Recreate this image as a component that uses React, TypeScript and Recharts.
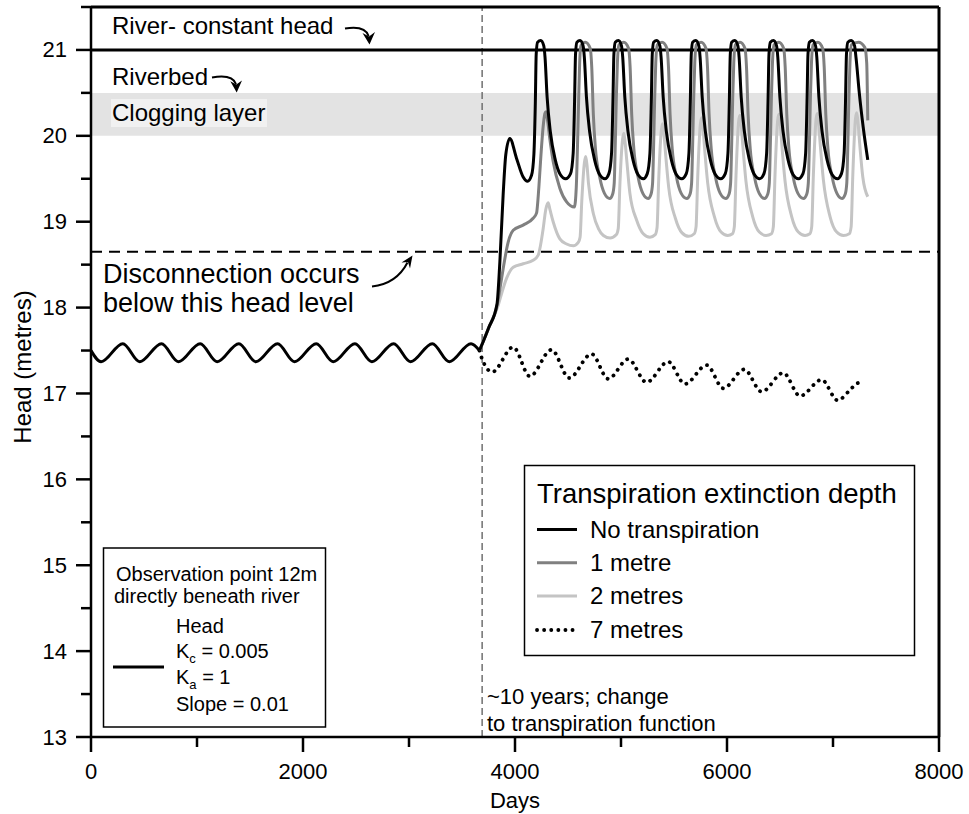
import React from 'react';
import { ComposedChart, Line, XAxis, YAxis, ReferenceLine, ReferenceArea } from 'recharts';

const FONT = '"Liberation Sans", Arial, Helvetica, sans-serif';

// Axis ticks
const xTicks = [0, 1000, 2000, 3000, 4000, 5000, 6000, 7000, 8000];
const xMajor = [0, 2000, 4000, 6000, 8000];
const yTicks = [13, 13.5, 14, 14.5, 15, 15.5, 16, 16.5, 17, 17.5, 18, 18.5, 19, 19.5, 20, 20.5, 21, 21.5];
const yMajor = [13, 14, 15, 16, 17, 18, 19, 20, 21];

// Reference levels
const riverHead = 21;
const riverbedTop = 20.5;
const riverbedBottom = 20;
const disconnectionHead = 18.65;
const changeDay = 3690;

// Head before transpiration change [day, head]
const headBefore = [
  [0, 17.5], [95, 17.37], [300, 17.58], [460, 17.37], [665, 17.58], [825, 17.37], [1030, 17.58],
  [1190, 17.37], [1395, 17.58], [1555, 17.37], [1760, 17.58], [1920, 17.37], [2125, 17.58],
  [2285, 17.37], [2490, 17.58], [2650, 17.37], [2855, 17.58], [3015, 17.37], [3220, 17.58],
  [3380, 17.37], [3585, 17.58], [3665, 17.5],
];

// No transpiration
const noTranspiration = [
  [3665, 17.5], [3750, 17.76], [3830, 18.04], [3857, 18.53], [3888, 19.31], [3913, 19.78], [3951, 19.97],
  [4014, 19.74], [4077, 19.52], [4118, 19.47], [4156, 19.54], [4178, 19.78], [4192, 20.4], [4200, 20.95],
  [4213, 21.09], [4243, 21.11], [4271, 21.05], [4283, 20.92], [4303, 20.45], [4333, 20.05], [4380, 19.72], [4427, 19.55], [4478, 19.5],
  [4524, 19.56], [4549, 19.8], [4562, 20.4], [4571, 20.95],
  [4584, 21.09], [4614, 21.11], [4642, 21.05], [4654, 20.92], [4674, 20.45], [4704, 20.05], [4751, 19.72], [4798, 19.55], [4849, 19.5],
  [4886, 19.56], [4911, 19.8], [4924, 20.4], [4933, 20.95],
  [4946, 21.09], [4976, 21.11], [5004, 21.05], [5016, 20.92], [5036, 20.45], [5066, 20.05], [5113, 19.72], [5160, 19.55], [5211, 19.5],
  [5248, 19.56], [5273, 19.8], [5286, 20.4], [5295, 20.95],
  [5308, 21.09], [5338, 21.11], [5366, 21.05], [5378, 20.92], [5398, 20.45], [5428, 20.05], [5475, 19.72], [5522, 19.55], [5573, 19.5],
  [5616, 19.56], [5641, 19.8], [5654, 20.4], [5663, 20.95],
  [5676, 21.09], [5706, 21.11], [5734, 21.05], [5746, 20.92], [5766, 20.45], [5796, 20.05], [5843, 19.72], [5890, 19.55], [5941, 19.5],
  [5984, 19.56], [6009, 19.8], [6022, 20.4], [6031, 20.95],
  [6044, 21.09], [6074, 21.11], [6102, 21.05], [6114, 20.92], [6134, 20.45], [6164, 20.05], [6211, 19.72], [6258, 19.55], [6309, 19.5],
  [6349, 19.56], [6374, 19.8], [6387, 20.4], [6396, 20.95],
  [6409, 21.09], [6439, 21.11], [6467, 21.05], [6479, 20.92], [6499, 20.45], [6529, 20.05], [6576, 19.72], [6623, 19.55], [6674, 19.5],
  [6717, 19.56], [6742, 19.8], [6755, 20.4], [6764, 20.95],
  [6777, 21.09], [6807, 21.11], [6835, 21.05], [6847, 20.92], [6867, 20.45], [6897, 20.05], [6944, 19.72], [6991, 19.55], [7042, 19.5],
  [7080, 19.56], [7105, 19.8], [7118, 20.4], [7127, 20.95],
  [7140, 21.09], [7172, 21.11], [7203, 21.05], [7218, 20.9], [7248, 20.5], [7285, 20.1], [7328, 19.72],
];

// 1 metre extinction depth
const oneMetre = [
  [3665, 17.5], [3750, 17.76], [3835, 18.05], [3862, 18.25], [3888, 18.45], [3935, 18.76], [3983, 18.9],
  [4077, 18.96], [4171, 19.04], [4203, 19.1], [4225, 19.4], [4245, 19.78], [4265, 20.1], [4282, 20.26],
  [4292, 20.28], [4305, 20.2], [4330, 19.95], [4360, 19.7], [4423, 19.39], [4487, 19.23], [4560, 19.17],
  [4578, 19.4], [4590, 19.9], [4600, 20.4], [4610, 20.85], [4622, 21.05], [4664, 21.09], [4709, 21.02], [4724, 20.8], [4739, 20.25], [4759, 19.85], [4799, 19.52], [4844, 19.33], [4894, 19.27], [4921, 19.32],
  [4936, 19.45], [4946, 19.9], [4956, 20.45], [4966, 20.85], [4981, 21.06], [5026, 21.09], [5071, 21.02], [5086, 20.8], [5101, 20.25], [5121, 19.85], [5161, 19.52], [5206, 19.33], [5256, 19.27], [5283, 19.32],
  [5298, 19.45], [5308, 19.9], [5318, 20.45], [5328, 20.85], [5343, 21.06], [5388, 21.09], [5433, 21.02], [5448, 20.8], [5463, 20.25], [5483, 19.85], [5523, 19.52], [5568, 19.33], [5621, 19.27], [5651, 19.32],
  [5666, 19.45], [5676, 19.9], [5686, 20.45], [5696, 20.85], [5711, 21.06], [5756, 21.09], [5801, 21.02], [5816, 20.8], [5831, 20.25], [5851, 19.85], [5891, 19.52], [5936, 19.33], [5989, 19.27], [6019, 19.32],
  [6034, 19.45], [6044, 19.9], [6054, 20.45], [6064, 20.85], [6079, 21.06], [6124, 21.09], [6169, 21.02], [6184, 20.8], [6199, 20.25], [6219, 19.85], [6259, 19.52], [6304, 19.33], [6354, 19.27], [6384, 19.32],
  [6399, 19.45], [6409, 19.9], [6419, 20.45], [6429, 20.85], [6444, 21.06], [6489, 21.09], [6534, 21.02], [6549, 20.8], [6564, 20.25], [6584, 19.85], [6624, 19.52], [6669, 19.33], [6722, 19.27], [6752, 19.32],
  [6767, 19.45], [6777, 19.9], [6787, 20.45], [6797, 20.85], [6812, 21.06], [6857, 21.09], [6902, 21.02], [6917, 20.8], [6932, 20.25], [6952, 19.85], [6992, 19.52], [7037, 19.33], [7085, 19.27], [7115, 19.32],
  [7130, 19.45], [7140, 19.9], [7150, 20.45], [7160, 20.85], [7175, 21.06], [7240, 21.09], [7300, 21.03], [7318, 20.85], [7328, 20.18],
];

// 2 metres extinction depth
const twoMetres = [
  [3665, 17.5], [3750, 17.76], [3840, 18.02], [3873, 18.16], [3920, 18.34], [3983, 18.47], [4077, 18.51],
  [4171, 18.55], [4219, 18.61], [4240, 18.72], [4266, 18.92], [4290, 19.14], [4313, 19.22], [4330, 19.14],
  [4360, 19.0], [4423, 18.8], [4487, 18.74], [4550, 18.72],
  [4597, 18.76], [4614, 18.82], [4630, 19.24], [4655, 19.69], [4667, 19.76], [4679, 19.66], [4693, 19.45], [4740, 19.09], [4787, 18.92], [4834, 18.84], [4897, 18.81],
  [4957, 18.85], [4974, 18.92], [4990, 19.45], [5015, 19.96], [5027, 20.03], [5039, 19.92], [5054, 19.72], [5084, 19.33], [5147, 19.02], [5210, 18.86], [5273, 18.82],
  [5323, 18.85], [5340, 18.93], [5356, 19.5], [5381, 20.07], [5393, 20.14], [5405, 20.03], [5420, 19.8], [5450, 19.4], [5513, 19.04], [5576, 18.87], [5639, 18.83],
  [5691, 18.86], [5708, 18.94], [5724, 19.53], [5749, 20.14], [5761, 20.21], [5773, 20.1], [5788, 19.86], [5818, 19.45], [5881, 19.06], [5944, 18.88], [6007, 18.84],
  [6052, 18.86], [6069, 18.94], [6085, 19.54], [6110, 20.17], [6122, 20.24], [6134, 20.13], [6149, 19.89], [6179, 19.47], [6242, 19.06], [6305, 18.88], [6368, 18.84],
  [6420, 18.86], [6437, 18.94], [6453, 19.55], [6478, 20.18], [6490, 20.25], [6502, 20.14], [6517, 19.9], [6547, 19.48], [6610, 19.06], [6673, 18.88], [6736, 18.84],
  [6782, 18.86], [6799, 18.94], [6815, 19.55], [6840, 20.19], [6852, 20.26], [6864, 20.15], [6879, 19.91], [6909, 19.49], [6972, 19.06], [7035, 18.88], [7098, 18.84],
  [7154, 18.86], [7171, 18.94], [7187, 19.55], [7212, 20.2], [7224, 20.27], [7236, 20.16], [7251, 19.92], [7281, 19.52], [7328, 19.29],
];

// 7 metres extinction depth
const sevenMetres = [
  [3665, 17.5], [3690, 17.4], [3785, 17.25], [3983, 17.54], [4140, 17.2], [4345, 17.51], [4511, 17.18],
  [4722, 17.46], [4879, 17.17], [5068, 17.4], [5241, 17.13], [5445, 17.37], [5603, 17.11], [5808, 17.33],
  [5965, 17.06], [6163, 17.28], [6327, 17.02], [6531, 17.24], [6689, 16.97], [6893, 17.16], [7044, 16.92],
  [7160, 17.04], [7230, 17.12], [7295, 17.13],
];

const toPts = (arr: number[][]) => arr.map(([d, v]) => ({ d, v }));

const XTick = (props: any) => {
  const { x, y, payload } = props;
  const major = xMajor.includes(payload.value);
  return (
    <g>
      <line x1={x} x2={x} y1={y} y2={y + (major ? 15 : 10)} stroke="#000" strokeWidth={2.5} />
      {major && (
        <text x={x} y={y + 34} textAnchor="middle" dominantBaseline="central" fontSize={22} fontFamily={FONT} fill="#000">
          {payload.value}
        </text>
      )}
    </g>
  );
};

const YTick = (props: any) => {
  const { x, y, payload } = props;
  const major = yMajor.includes(payload.value);
  return (
    <g>
      <line x1={x - (major ? 15 : 10)} x2={x} y1={y} y2={y} stroke="#000" strokeWidth={2.5} />
      {major && (
        <text x={x - 24} y={y} textAnchor="end" dominantBaseline="central" fontSize={22} fontFamily={FONT} fill="#000">
          {payload.value}
        </text>
      )}
    </g>
  );
};

const Arrow = ({ d, head }: { d: string; head: string }) => (
  <g>
    <path d={d} stroke="#000" strokeWidth={2} fill="none" />
    <polygon points={head} fill="#000" />
  </g>
);

export default function App() {
  const T = { fontFamily: FONT, fill: '#000' } as const;
  return (
    <div style={{ position: 'absolute', left: 0, top: 0, width: 969, height: 814, background: '#fff' }}>
      <ComposedChart width={969} height={814} margin={{ top: 7, right: 30, bottom: 0, left: 0 }}>
        <XAxis
          dataKey="d"
          type="number"
          domain={[0, 8000]}
          ticks={xTicks}
          interval={0}
          height={77}
          tickSize={0}
          tickMargin={0}
          tickLine={false}
          tick={(p: any) => <XTick {...p} />}
          axisLine={{ stroke: '#000', strokeWidth: 2.5 }}
          allowDataOverflow
        />
        <YAxis
          type="number"
          domain={[13, 21.5]}
          ticks={yTicks}
          interval={0}
          width={91}
          tickSize={0}
          tickMargin={0}
          tickLine={false}
          tick={(p: any) => <YTick {...p} />}
          axisLine={{ stroke: '#000', strokeWidth: 2.5 }}
          allowDataOverflow
        />
        <ReferenceArea x1={0} x2={8000} y1={riverbedBottom} y2={riverbedTop} fill="#e3e3e3" fillOpacity={1} stroke="none" />
        <ReferenceLine x={changeDay} stroke="#707070" strokeWidth={1.5} strokeDasharray="7 4" />
        <ReferenceLine y={disconnectionHead} stroke="#000" strokeWidth={2} strokeDasharray="11 7" />
        <ReferenceLine y={riverHead} stroke="#000" strokeWidth={3} />
        <ReferenceLine y={21.5} stroke="#000" strokeWidth={3} />
        <ReferenceLine x={8000} stroke="#000" strokeWidth={3} />
        <Line data={toPts(sevenMetres)} dataKey="v" type="monotone" stroke="#000" strokeWidth={3.8} strokeDasharray="0.1 7" strokeLinecap="round" dot={false} activeDot={false} isAnimationActive={false} />
        <Line data={toPts(twoMetres)} dataKey="v" type="monotone" stroke="#c4c4c4" strokeWidth={3} dot={false} activeDot={false} isAnimationActive={false} />
        <Line data={toPts(oneMetre)} dataKey="v" type="monotone" stroke="#808080" strokeWidth={3} dot={false} activeDot={false} isAnimationActive={false} />
        <Line data={toPts(headBefore)} dataKey="v" type="monotone" stroke="#000" strokeWidth={3} dot={false} activeDot={false} isAnimationActive={false} />
        <Line data={toPts(noTranspiration)} dataKey="v" type="monotone" stroke="#000" strokeWidth={3} dot={false} activeDot={false} isAnimationActive={false} />
      </ComposedChart>

      <svg width={969} height={814} style={{ position: 'absolute', left: 0, top: 0, pointerEvents: 'none' }}>
        {/* top annotations */}
        <rect x={111} y={99} width={156} height={28} fill="#f1f1f1" />
        <text x={112} y={34} fontSize={24} {...T}>River- constant head</text>
        <text x={112} y={85} fontSize={24} {...T}>Riverbed</text>
        <text x={112} y={121} fontSize={24} {...T}>Clogging layer</text>
        <Arrow d="M 345 28.5 C 357 26.5, 366 28, 368.6 36" head="369.5,44.5 362.5,33 369,36.5 375,32" />
        <Arrow d="M 212 77.5 C 223 75.5, 233 76, 236 84" head="236.7,92.5 230.3,81.3 236.3,84.5 242,80.5" />
        <text x={103} y={283} fontSize={27} {...T}>Disconnection occurs</text>
        <text x={103} y={312} fontSize={27} {...T}>below this head level</text>
        <Arrow d="M 372 286.5 C 386 285, 399 279, 407.5 262.5" head="412.5,255.5 401.5,262.5 408,262 410,268.5" />

        {/* axis titles */}
        <text x={515} y={800} fontSize={22} textAnchor="middle" dominantBaseline="central" {...T}>Days</text>
        <text transform="translate(22,367) rotate(-90)" fontSize={24} textAnchor="middle" dominantBaseline="central" {...T}>Head (metres)</text>

        {/* change note */}
        <text x={487} y={704} fontSize={22} {...T}>~10 years; change</text>
        <text x={487} y={731} fontSize={22} {...T}>to transpiration function</text>

        {/* observation legend */}
        <rect x={103.5} y={548} width={222} height={179} fill="#fff" stroke="#000" strokeWidth={1.5} />
        <text x={116} y={581} fontSize={20} {...T}>Observation point 12m</text>
        <text x={114} y={603} fontSize={20} {...T}>directly beneath river</text>
        <line x1={113} x2={164} y1={667} y2={667} stroke="#000" strokeWidth={3} />
        <text x={176} y={633} fontSize={20} {...T}>Head</text>
        <text x={176} y={658} fontSize={20} {...T}>
          K<tspan fontSize={13} dy={5}>c</tspan><tspan dy={-5}> = 0.005</tspan>
        </text>
        <text x={176} y={684} fontSize={20} {...T}>
          K<tspan fontSize={13} dy={5}>a</tspan><tspan dy={-5}> = 1</tspan>
        </text>
        <text x={176} y={711} fontSize={20} {...T}>Slope = 0.01</text>

        {/* transpiration legend */}
        <rect x={524.5} y={465.5} width={390} height={190} fill="#fff" stroke="#000" strokeWidth={1.5} />
        <text x={537} y={503} fontSize={27.5} {...T}>Transpiration extinction depth</text>
        <line x1={537} x2={577} y1={529.5} y2={529.5} stroke="#000" strokeWidth={3} />
        <text x={590} y={537.5} fontSize={24} {...T}>No transpiration</text>
        <line x1={537} x2={577} y1={562.7} y2={562.7} stroke="#808080" strokeWidth={3} />
        <text x={590} y={571} fontSize={24} {...T}>1 metre</text>
        <line x1={537} x2={577} y1={596} y2={596} stroke="#c4c4c4" strokeWidth={3} />
        <text x={590} y={604} fontSize={24} {...T}>2 metres</text>
        <line x1={537} x2={577} y1={630} y2={630} stroke="#000" strokeWidth={3.8} strokeDasharray="0.1 7" strokeLinecap="round" />
        <text x={590} y={637.5} fontSize={24} {...T}>7 metres</text>
      </svg>
    </div>
  );
}
